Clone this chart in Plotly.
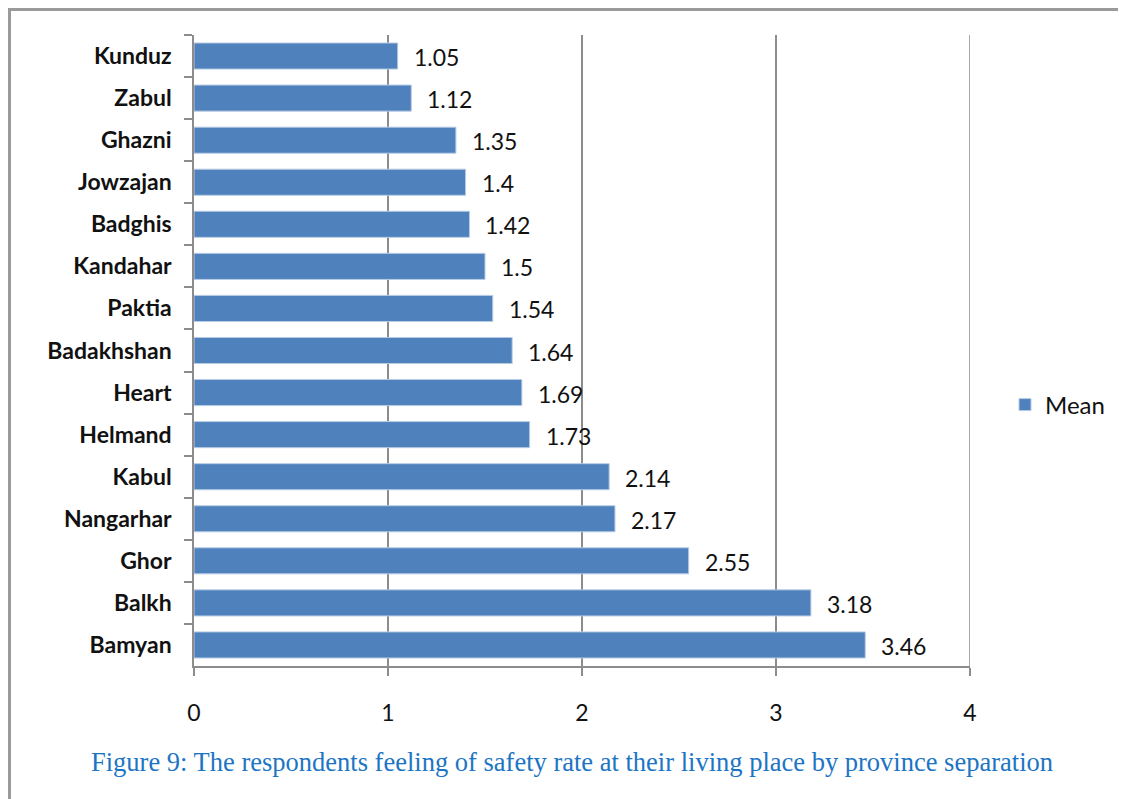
import plotly.graph_objects as go

# province means, top to bottom as drawn
provinces = ["Kunduz", "Zabul", "Ghazni", "Jowzajan", "Badghis", "Kandahar", "Paktia",
             "Badakhshan", "Heart", "Helmand", "Kabul", "Nangarhar", "Ghor", "Balkh", "Bamyan"]
means = [1.05, 1.12, 1.35, 1.4, 1.42, 1.5, 1.54, 1.64, 1.69, 1.73, 2.14, 2.17, 2.55, 3.18, 3.46]
x_ticks = [0, 1, 2, 3, 4]

caption = "Figure 9: The respondents feeling of safety rate at their living place by province separation"

# page puts the figure 8px in from the window corner
OFF = 8
W, H = 1126 - OFF, 799 - OFF
L, T = 194 - OFF, 35 - OFF
pw, ph = 776, 631
R, B = W - L - pw, H - T - ph

def px_x(p):
    # window pixel -> paper x
    return (p - OFF - L) / pw

def px_y(q):
    # window pixel -> paper y
    return (T + ph - (q - OFF)) / ph

fig = go.Figure()
fig.add_trace(go.Bar(
    x=means, y=provinces, orientation="h", name="Mean",
    marker=dict(color="#4F81BD", line=dict(color="#B8CCE4", width=1)),
    width=0.62,
))

# data labels to the right of each bar
for p, m in zip(provinces, means):
    fig.add_annotation(x=m, y=p, text=str(m), showarrow=False, xanchor="left",
                       xshift=14, yshift=-1, font=dict(family="Lato", size=23, color="#111"))

fig.update_layout(
    width=W, height=H,
    margin=dict(l=L, r=R, t=T, b=B),
    paper_bgcolor="white", plot_bgcolor="white",
    showlegend=True,
    legend=dict(x=px_x(1005), y=px_y(405), xanchor="left", yanchor="middle",
                font=dict(family="Lato", size=24, color="#111"), itemwidth=30),
    shapes=[
        # outer frame (top and left)
        dict(type="line", xref="paper", yref="paper", x0=px_x(OFF), x1=px_x(1130),
             y0=px_y(OFF + 1.5), y1=px_y(OFF + 1.5), line=dict(color="#9a9a9a", width=3)),
        dict(type="line", xref="paper", yref="paper", x0=px_x(OFF + 1.5), x1=px_x(OFF + 1.5),
             y0=px_y(OFF), y1=px_y(805), line=dict(color="#9a9a9a", width=3)),
        # right edge of plot area (gridline at 4)
        dict(type="line", xref="x", yref="paper", x0=x_ticks[-1], x1=x_ticks[-1], y0=0, y1=1,
             line=dict(color="#8c8c8c", width=1.5)),
    ],
)
fig.add_annotation(xref="paper", yref="paper", x=px_x(572), y=px_y(762), text=caption,
                   showarrow=False, xanchor="center", yanchor="middle",
                   font=dict(family="Liberation Serif", size=26.5, color="#1C75C4"))

fig.update_xaxes(range=[0, 4], tickvals=x_ticks, showgrid=True, gridcolor="#8c8c8c", gridwidth=1.5,
                 zeroline=False, showline=True, linecolor="#8c8c8c", linewidth=1.5,
                 ticks="outside", ticklen=8, tickcolor="#8c8c8c", tickwidth=1.5,
                 ticklabelstandoff=18,
                 tickfont=dict(family="Lato", size=23, color="#111"))
fig.update_yaxes(autorange="reversed", showline=True, linecolor="#8c8c8c", linewidth=1.5,
                 ticks="outside", ticklen=8, tickcolor="#8c8c8c", tickwidth=1.5, tickson="boundaries",
                 showgrid=False, ticklabelstandoff=16,
                 tickfont=dict(family="Lato", size=23, color="#111", weight="bold"))

fig.write_html("out.html")
